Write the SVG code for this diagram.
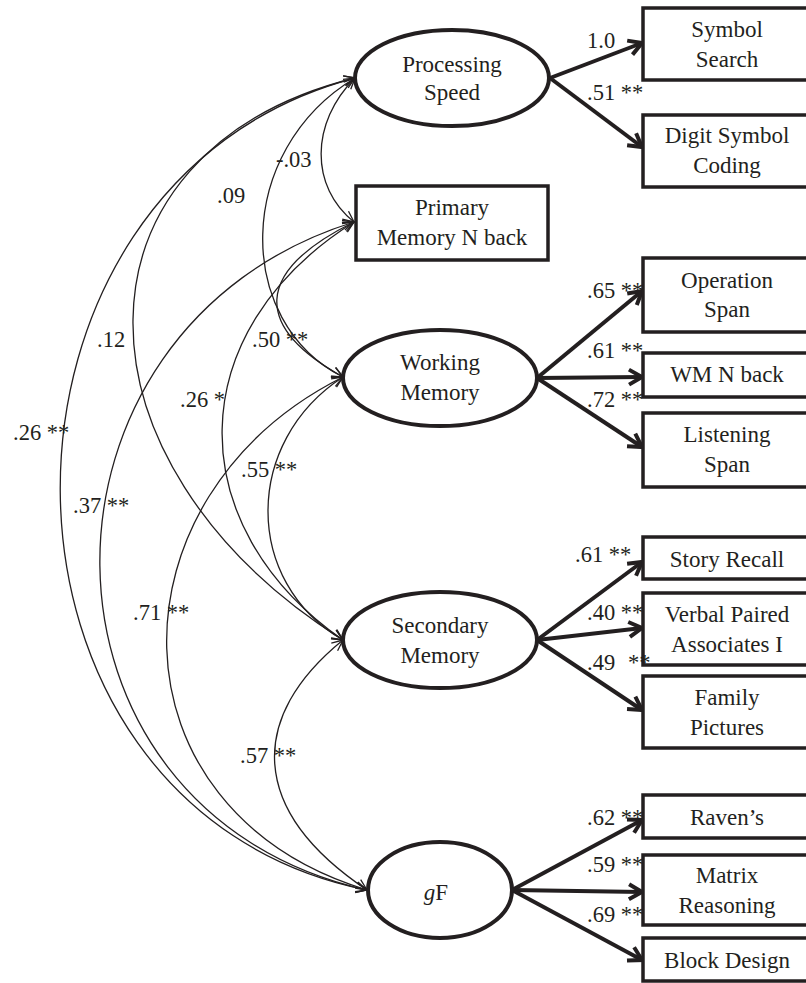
<svg xmlns="http://www.w3.org/2000/svg" width="806" height="983" viewBox="0 0 806 983">
<style>
text{font-family:"Liberation Serif","Times New Roman",serif;fill:#231f20}
.n{font-size:23px;text-anchor:middle}
.l{font-size:22.5px}
.box{fill:#fff;stroke:#231f20;stroke-width:3.5}
.lat{fill:#fff;stroke:#231f20;stroke-width:4}
.cov{fill:none;stroke:#231f20;stroke-width:1.3;marker-start:url(#ta);marker-end:url(#ta)}
.ld{fill:none;stroke:#231f20;stroke-width:4;marker-end:url(#ha)}
</style>
<defs>
<marker id="ta" markerUnits="userSpaceOnUse" markerWidth="14" markerHeight="12" refX="11" refY="5" orient="auto-start-reverse" overflow="visible">
<path d="M0,0 L11,5 L0,10" fill="none" stroke="#231f20" stroke-width="1.3"/>
</marker>
<marker id="ha" markerUnits="userSpaceOnUse" markerWidth="18" markerHeight="18" refX="14" refY="8" orient="auto" overflow="visible">
<path d="M1,0.5 L14,8 L1,15.5" fill="none" stroke="#231f20" stroke-width="4"/>
</marker>
</defs>
<g id="connectors">
<path class="cov" d="M355,78 C310,123 310,187 354,222"/>
<path class="cov" d="M355,78 C234,151 234,322 343,377"/>
<path class="cov" d="M355,78 C61,151 61,462 343,640"/>
<path class="cov" d="M355,78 C-40,182 -40,808 367,890"/>
<path class="cov" d="M354,222 C253,272 253,327 343,377"/>
<path class="cov" d="M354,222 C180,332 180,526 343,640"/>
<path class="cov" d="M354,222 C13,328 13,810 367,890"/>
<path class="cov" d="M343,377 C243,442 243,582 343,640"/>
<path class="cov" d="M343,377 C104,497 104,810 367,890"/>
<path class="cov" d="M343,640 C248,717 248,810 367,890"/>
<path class="ld" d="M550,78 L642,43"/>
<path class="ld" d="M550,78 L642,147"/>
<path class="ld" d="M537,378 L642,291"/>
<path class="ld" d="M537,378 L642,377"/>
<path class="ld" d="M537,378 L642,447"/>
<path class="ld" d="M537,640 L642,562"/>
<path class="ld" d="M537,640 L642,628"/>
<path class="ld" d="M537,640 L642,710"/>
<path class="ld" d="M512,890 L642,820"/>
<path class="ld" d="M512,890 L642,892"/>
<path class="ld" d="M512,890 L642,960"/>
</g>
<g id="processing-speed">
<ellipse class="lat" cx="452" cy="78" rx="97" ry="48"/>
<text class="n" x="452" y="72">Processing</text>
<text class="n" x="452" y="100">Speed</text>
</g>
<g id="primary-memory">
<rect class="box" x="356" y="186" width="192" height="74"/>
<text class="n" x="452" y="215">Primary</text>
<text class="n" x="452" y="245">Memory N back</text>
</g>
<g id="working-memory">
<ellipse class="lat" cx="440" cy="378" rx="97" ry="48"/>
<text class="n" x="440" y="370">Working</text>
<text class="n" x="440" y="400">Memory</text>
</g>
<g id="secondary-memory">
<ellipse class="lat" cx="440" cy="640" rx="97" ry="48"/>
<text class="n" x="440" y="633">Secondary</text>
<text class="n" x="440" y="663">Memory</text>
</g>
<g id="gf">
<ellipse class="lat" cx="440" cy="890" rx="72" ry="48"/>
<text class="n" x="436" y="900"><tspan font-style="italic">g</tspan>F</text>
</g>
<g id="symbol-search">
<rect class="box" x="643" y="8" width="170" height="72"/>
<text class="n" x="727" y="37">Symbol</text>
<text class="n" x="727" y="67">Search</text>
</g>
<g id="digit-symbol">
<rect class="box" x="643" y="115" width="170" height="72"/>
<text class="n" x="727" y="143">Digit Symbol</text>
<text class="n" x="727" y="173">Coding</text>
</g>
<g id="operation-span">
<rect class="box" x="643" y="258" width="170" height="74"/>
<text class="n" x="727" y="288">Operation</text>
<text class="n" x="727" y="317">Span</text>
</g>
<g id="wm-n-back">
<rect class="box" x="643" y="353" width="170" height="44"/>
<text class="n" x="727" y="382">WM N back</text>
</g>
<g id="listening-span">
<rect class="box" x="643" y="413" width="170" height="74"/>
<text class="n" x="727" y="442">Listening</text>
<text class="n" x="727" y="472">Span</text>
</g>
<g id="story-recall">
<rect class="box" x="643" y="537" width="170" height="42"/>
<text class="n" x="727" y="567">Story Recall</text>
</g>
<g id="verbal-paired">
<rect class="box" x="643" y="593" width="170" height="72"/>
<text class="n" x="727" y="622">Verbal Paired</text>
<text class="n" x="727" y="652">Associates I</text>
</g>
<g id="family-pictures">
<rect class="box" x="643" y="676" width="170" height="72"/>
<text class="n" x="727" y="705">Family</text>
<text class="n" x="727" y="735">Pictures</text>
</g>
<g id="ravens">
<rect class="box" x="643" y="795" width="170" height="43"/>
<text class="n" x="727" y="825">Raven’s</text>
</g>
<g id="matrix-reasoning">
<rect class="box" x="643" y="855" width="170" height="70"/>
<text class="n" x="727" y="883">Matrix</text>
<text class="n" x="727" y="913">Reasoning</text>
</g>
<g id="block-design">
<rect class="box" x="643" y="938" width="170" height="43"/>
<text class="n" x="727" y="968">Block Design</text>
</g>
<g id="labels">
<text class="l" x="276" y="167">-.03</text>
<text class="l" x="217" y="203">.09</text>
<text class="l" x="97" y="347">.12</text>
<text class="l" x="13" y="440">.26 **</text>
<text class="l" x="252" y="347">.50 **</text>
<text class="l" x="180" y="407">.26 *</text>
<text class="l" x="241" y="477">.55 **</text>
<text class="l" x="73" y="513">.37 **</text>
<text class="l" x="133" y="620">.71 **</text>
<text class="l" x="240" y="763">.57 **</text>
<text class="l" x="587" y="48">1.0</text>
<text class="l" x="587" y="100">.51 **</text>
<text class="l" x="587" y="298">.65 **</text>
<text class="l" x="587" y="358">.61 **</text>
<text class="l" x="587" y="407">.72 **</text>
<text class="l" x="575" y="562">.61 **</text>
<text class="l" x="587" y="620">.40 **</text>
<text class="l" x="587" y="670">.49</text>
<text class="l" x="628" y="670">**</text>
<text class="l" x="587" y="825">.62 **</text>
<text class="l" x="587" y="872">.59 **</text>
<text class="l" x="587" y="922">.69 **</text>
</g>
</svg>
